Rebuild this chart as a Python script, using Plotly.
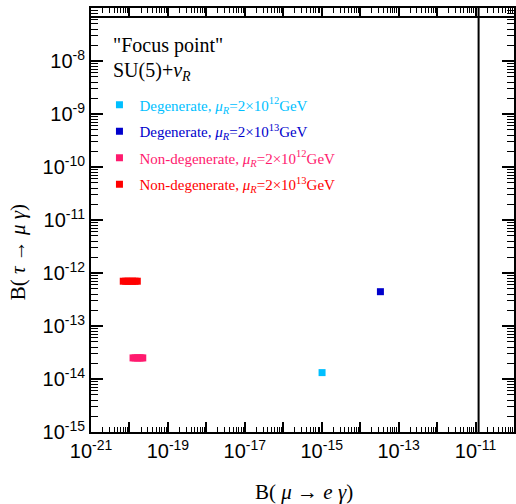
import plotly.graph_objects as go

# ---- data ----
deg12_x = [1.02e-15]
deg12_y = [1.32e-14]

deg13_x = [3.36e-14]
deg13_y = [4.44e-13]

nondeg12_x = [1.24e-20, 1.4e-20, 1.6e-20, 1.8e-20, 2.0e-20, 2.22e-20]
nondeg12_y = [2.5e-14, 2.5e-14, 2.5e-14, 2.5e-14, 2.5e-14, 2.5e-14]

nondeg13_x = [6.9e-21, 8.0e-21, 9.2e-21, 1.05e-20, 1.2e-20, 1.4e-20, 1.6e-20]
nondeg13_y = [7.0e-13, 7.0e-13, 7.0e-13, 7.0e-13, 7.0e-13, 7.0e-13, 7.0e-13]

meg_bound = 1.2e-11      # B(mu -> e gamma) experimental bound
tau_bound = 6.8e-8       # B(tau -> mu gamma) experimental bound

x_decades = list(range(-21, -9))
y_decades = list(range(-15, -7))

names = [
    "Degenerate, <i>μ<sub>R</sub></i>=2×10<sup>12</sup>GeV",
    "Degenerate, <i>μ<sub>R</sub></i>=2×10<sup>13</sup>GeV",
    "Non-degenerate, <i>μ<sub>R</sub></i>=2×10<sup>12</sup>GeV",
    "Non-degenerate, <i>μ<sub>R</sub></i>=2×10<sup>13</sup>GeV",
]
colors = ["#00BFFF", "#0000CC", "#FF1A6E", "#FF0000"]

SERIF = "Liberation Serif, Times New Roman, serif"
SANS = "Liberation Sans, Arial, sans-serif"

fig = go.Figure()

series = [(deg12_x, deg12_y), (deg13_x, deg13_y), (nondeg12_x, nondeg12_y), (nondeg13_x, nondeg13_y)]
for i, ((xs, ys), nm, c) in enumerate(zip(series, names, colors)):
    fig.add_trace(go.Scatter(
        x=xs, y=ys, mode="markers",
        marker=dict(symbol="square", size=7, color=c, line=dict(width=0)),
        name=f'<span style="color:{c}">{nm}</span>',
        legendgroup=f"g{i}",
    ))

# experimental bounds
fig.add_trace(go.Scatter(x=[meg_bound, meg_bound], y=[10**y_decades[0], 1e-7], mode="lines",
                         line=dict(color="black", width=2), showlegend=False))
fig.add_trace(go.Scatter(x=[10**x_decades[0], 1e-10], y=[tau_bound, tau_bound], mode="lines",
                         line=dict(color="black", width=2), showlegend=False))

def sup_label(e):
    return f"10<sup>{e}</sup>"

x_tickvals = [10**e for e in x_decades]
x_ticktext = [sup_label(e) if (e % 2 == 1) else "" for e in x_decades]
y_tickvals = [10**e for e in y_decades]
y_ticktext = [sup_label(e) for e in y_decades]

x_minor = [m * 10**e for e in range(-21, -10) for m in range(2, 10)]
y_minor = [m * 10**e for e in range(-15, -7) for m in range(2, 10)]

fig.update_xaxes(
    type="log", range=[-21, -10],
    tickmode="array", tickvals=x_tickvals, ticktext=x_ticktext,
    ticks="inside", ticklen=10, tickwidth=1.5, tickcolor="black",
    minor=dict(tickmode="array", tickvals=x_minor, ticks="inside", ticklen=5, tickwidth=1, tickcolor="black", showgrid=False),
    showline=True, linecolor="black", linewidth=2, mirror="allticks",
    showgrid=False, zeroline=False,
    tickfont=dict(family=SANS, size=20, color="black"),
)
fig.update_yaxes(
    type="log", range=[-15, -7],
    tickmode="array", tickvals=y_tickvals, ticktext=y_ticktext,
    ticks="inside", ticklen=12, tickwidth=1.5, tickcolor="black",
    minor=dict(tickmode="array", tickvals=y_minor, ticks="inside", ticklen=7, tickwidth=1, tickcolor="black", showgrid=False),
    showline=True, linecolor="black", linewidth=2, mirror="allticks",
    showgrid=False, zeroline=False,
    tickfont=dict(family=SANS, size=20, color="black"),
)

fig.update_layout(
    width=516, height=504,
    margin=dict(l=91, r=0, t=8, b=72),
    plot_bgcolor="white", paper_bgcolor="white",
    showlegend=True,
    legend=dict(x=0.02, y=0.81, xanchor="left", yanchor="top",
                bgcolor="rgba(0,0,0,0)", borderwidth=0,
                font=dict(family=SERIF, size=15),
                tracegroupgap=4, itemwidth=30),
    annotations=[
        dict(text='"Focus point"', xref="paper", yref="paper",
             x=(111 - 91) / 425, y=1 - (45 - 8) / 424, xanchor="left", yanchor="middle",
             showarrow=False, font=dict(family=SERIF, size=20, color="black")),
        dict(text="SU(5)+<i>ν<sub>R</sub></i>", xref="paper", yref="paper",
             x=(111 - 91) / 425, y=1 - (72 - 8) / 424, xanchor="left", yanchor="middle",
             showarrow=False, font=dict(family=SERIF, size=20, color="black")),
        dict(text="B( <i>μ</i> → <i>e</i> <i>γ</i>)", xref="paper", yref="paper",
             x=(305 - 91) / 425, y=-(492 - 432) / 424, xanchor="center", yanchor="middle",
             showarrow=False, font=dict(family=SERIF, size=21, color="black")),
        dict(text="B( <i>τ</i> → <i>μ</i> <i>γ</i>)", xref="paper", yref="paper",
             x=-(91 - 18) / 425, y=1 - (252 - 8) / 424, xanchor="center", yanchor="middle",
             textangle=-90, showarrow=False, font=dict(family=SERIF, size=21, color="black")),
    ],
)

fig.write_html("out.html")
